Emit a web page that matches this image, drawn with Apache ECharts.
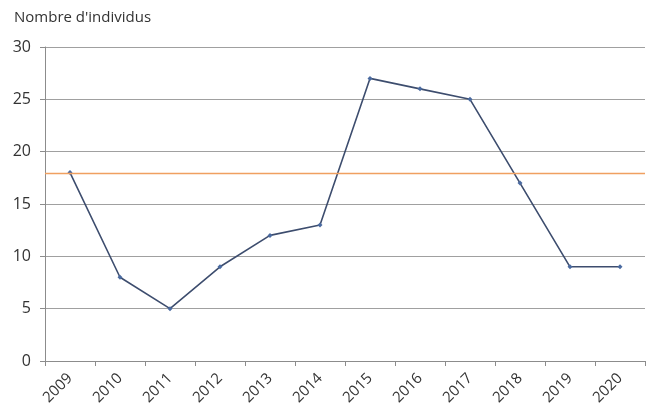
<!DOCTYPE html>
<html><head><meta charset="utf-8">
<script src="https://cdn.jsdelivr.net/npm/echarts@6/dist/echarts.min.js"></script>
<style>html,body{margin:0;padding:0;background:#fff}#c{width:648px;height:416px}</style>
</head><body><div id="c"></div>
<script>
const years = ['2009','2010','2011','2012','2013','2014','2015','2016','2017','2018','2019','2020'];
const individus = [18, 8, 5, 9, 12, 13, 27, 26, 25, 17, 9, 9];
const reference = 17.9;
const yTicks = [0, 5, 10, 15, 20, 25, 30];

const chart = echarts.init(document.getElementById('c'));
chart.setOption({
  animation: false,
  backgroundColor: '#fff',
  textStyle: { fontFamily: 'Open Sans' },
  title: {
    text: "Nombre d'individus", left: 9, top: 5,
    textStyle: { fontSize: 15, fontWeight: 'normal', color: '#333', fontFamily: 'Open Sans' }
  },
  grid: { left: 45, right: 3, top: 47, bottom: 55, containLabel: false },
  xAxis: {
    type: 'category', data: years, boundaryGap: true,
    axisLine: { lineStyle: { color: '#8c8c8c', width: 1 } },
    axisTick: { show: true, length: 5, lineStyle: { color: '#8c8c8c' } },
    axisLabel: { rotate: 45, fontSize: 15, color: '#333', margin: 15 }
  },
  yAxis: {
    type: 'value', min: yTicks[0], max: yTicks[yTicks.length - 1], interval: 5,
    axisLine: { show: true, lineStyle: { color: '#8c8c8c' } },
    axisTick: { show: true, length: 5, lineStyle: { color: '#8c8c8c' } },
    axisLabel: { fontSize: 16, color: '#333', margin: 14 },
    splitLine: { lineStyle: { color: '#a0a0a0', width: 1 } }
  },
  series: [{
    type: 'line', data: individus, z: 3,
    symbol: 'diamond', symbolSize: 5,
    lineStyle: { color: '#3d4d6e', width: 1.6 },
    itemStyle: { color: '#4a6aa0' },
    markLine: {
      silent: true, symbol: ['none', 'none'], label: { show: false },
      lineStyle: { color: '#f0a060', type: 'solid', width: 1.3, opacity: 1 },
      emphasis: { disabled: true },
      data: [{ yAxis: reference, lineStyle: { color: '#f0a060', type: 'solid', width: 1.3 } }]
    }
  }]
});
</script></body></html>
